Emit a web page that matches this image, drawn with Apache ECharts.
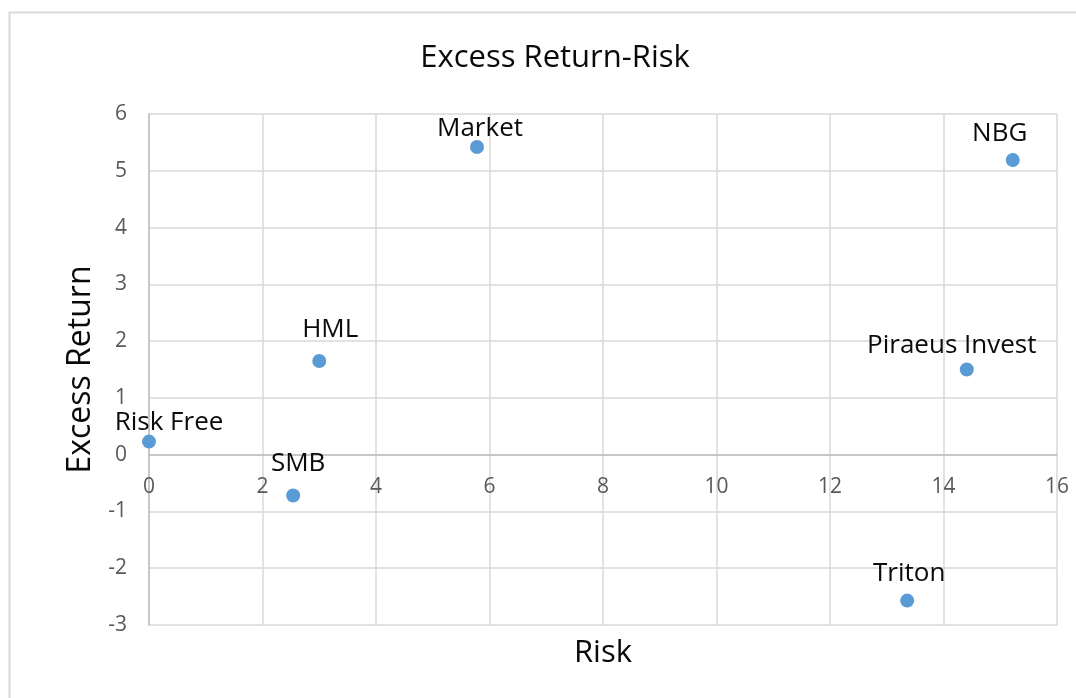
<!DOCTYPE html>
<html>
<head>
<meta charset="utf-8">
<title>Excess Return-Risk</title>
<script src="https://cdn.jsdelivr.net/npm/echarts@6/dist/echarts.min.js"></script>
<style>
  html, body { margin: 0; padding: 0; background: #ffffff; }
  #chart { width: 1076px; height: 698px; }
</style>
</head>
<body>
<div id="chart"></div>
<script>
// Portfolio / factor names
const names = ['Risk Free', 'SMB', 'HML', 'Market', 'NBG', 'Piraeus Invest', 'Triton'];
// Risk (x) and excess return (y) for each name
const risk = [0.0, 2.54, 3.0, 5.78, 15.22, 14.41, 13.36];
const excessReturn = [0.23, -0.72, 1.65, 5.42, 5.19, 1.50, -2.57];
// Axis tick settings
const xTicks = { min: 0, max: 16, step: 2 };
const yTicks = { min: -3, max: 6, step: 1 };

// Per-label nudges [dx, dy] so the labels sit where they read best
const labelNudge = {
  'Risk Free': [20, 6],
  'SMB': [5, -7],
  'HML': [11, -6],
  'Market': [3, 7],
  'NBG': [-13, -1],
  'Piraeus Invest': [-15, 1],
  'Triton': [2, -2]
};

const FONT = '"Open Sans", "Noto Sans", sans-serif';
const gridColor = '#d9d9d9';
const tickColor = '#595959';
const textColor = '#0a0a0a';

// Plot box (pixels)
const GRID = { left: 149, right: 19, top: 114, bottom: 73 };
const CHART_H = 698, CHART_W = 1076;

// The horizontal axis crosses the vertical one at y = 0; shift it up from the grid bottom
const plotH = CHART_H - GRID.top - GRID.bottom;
const zeroShift = -plotH * (0 - yTicks.min) / (yTicks.max - yTicks.min);
const plotCenterX = GRID.left + (CHART_W - GRID.left - GRID.right) / 2;

const points = names.map((n, i) => ({
  name: n,
  value: [risk[i], excessReturn[i]],
  label: { offset: labelNudge[n] || [0, 0] }
}));

const chart = echarts.init(document.getElementById('chart'), null, { renderer: 'canvas' });

chart.setOption({
  backgroundColor: '#ffffff',
  animation: false,
  title: {
    text: 'Excess Return-Risk',
    left: 550,
    textAlign: 'center',
    top: 38,
    textStyle: { fontFamily: FONT, fontSize: 31, fontWeight: 'normal', color: textColor }
  },
  graphic: [
    {
      type: 'rect',
      shape: { x: 9.5, y: 12.5, width: 1100, height: 720 },
      style: { fill: 'none', stroke: '#d9d9d9', lineWidth: 2 },
      silent: true,
      z: -1
    },
    {
      type: 'text',
      x: plotCenterX,
      y: 653,
      style: {
        text: 'Risk', fontFamily: FONT, fontSize: 31, fill: textColor,
        align: 'center', verticalAlign: 'middle'
      }
    }
  ],
  grid: { left: GRID.left, right: GRID.right, top: GRID.top, bottom: GRID.bottom, containLabel: false },
  xAxis: {
    type: 'value',
    min: xTicks.min,
    max: xTicks.max,
    interval: xTicks.step,
    offset: zeroShift,
    axisLine: { show: true, onZero: false, lineStyle: { color: '#bfbfbf', width: 1.5 } },
    axisTick: { show: false },
    axisLabel: { margin: 22, fontFamily: FONT, fontSize: 21, color: tickColor },
    splitLine: { show: true, lineStyle: { color: gridColor, width: 1.5 } }
  },
  yAxis: {
    type: 'value',
    min: yTicks.min,
    max: yTicks.max,
    interval: yTicks.step,
    name: 'Excess Return',
    nameLocation: 'middle',
    nameGap: 51,
    nameTextStyle: { fontFamily: FONT, fontSize: 32, color: textColor },
    axisLine: { show: true, onZero: false, lineStyle: { color: '#bfbfbf', width: 1.5 } },
    axisTick: { show: false },
    axisLabel: { margin: 22, fontFamily: FONT, fontSize: 21, color: tickColor },
    splitLine: { show: true, lineStyle: { color: gridColor, width: 1.5 } }
  },
  series: [{
    type: 'scatter',
    symbol: 'circle',
    symbolSize: 14,
    itemStyle: { color: '#5b9bd5', opacity: 1 },
    label: {
      show: true,
      position: 'top',
      distance: 5,
      formatter: p => p.name,
      fontFamily: FONT,
      fontSize: 26,
      lineHeight: 26,
      color: textColor
    },
    data: points
  }]
});
</script>
</body>
</html>
